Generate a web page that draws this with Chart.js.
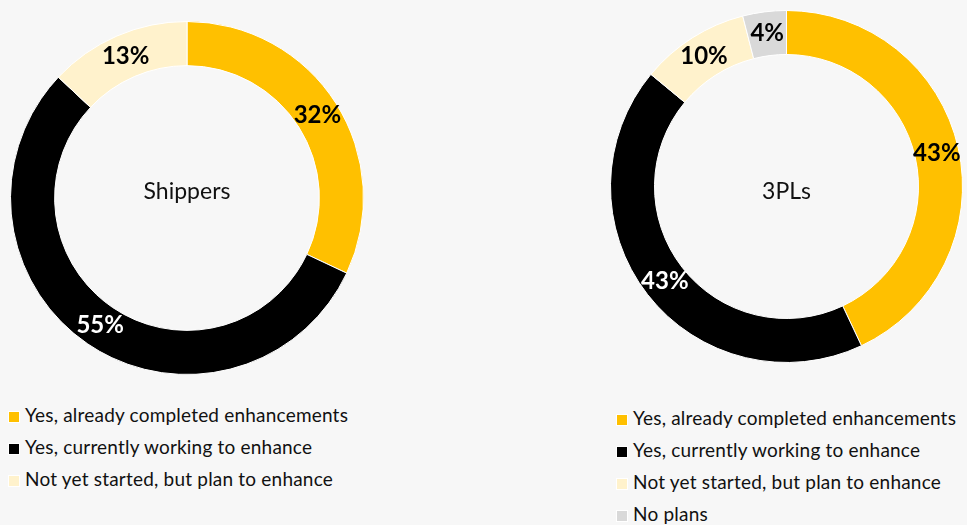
<!DOCTYPE html>
<html>
<head>
<meta charset="utf-8">
<script src="https://cdn.jsdelivr.net/npm/chart.js@4"></script>
<style>
  body { margin: 0; background: #f7f7f7; font-family: Lato, "Open Sans", sans-serif; }
  #wrap { position: relative; width: 967px; height: 525px; overflow: hidden; }
  .box { position: absolute; }
  .legend { position: absolute; font-size: 19px; letter-spacing: 0.2px; color: #111; }
  .legend div { height: 32px; line-height: 32px; white-space: nowrap; }
  .legend span.sw { display: inline-block; width: 10px; height: 10px; margin-right: 5px; border: 1px solid #fff; vertical-align: -1px; }
</style>
</head>
<body>
<div id="wrap">
  <div class="box" style="left:10px;top:21px;width:354px;height:354px"><canvas id="shippers"></canvas></div>
  <div class="box" style="left:610px;top:10px;width:353px;height:353px"><canvas id="tpl"></canvas></div>
  <div class="legend" id="legShippers" style="left:8px;top:399px"></div>
  <div class="legend" id="legTpl" style="left:616px;top:402px"></div>
</div>
<script>
// données
const shipperLabels = ["Yes, already completed enhancements", "Yes, currently working to enhance", "Not yet started, but plan to enhance"];
const shipperValues = [32, 55, 13];
const tplLabels = ["Yes, already completed enhancements", "Yes, currently working to enhance", "Not yet started, but plan to enhance", "No plans"];
const tplValues = [43, 43, 10, 4];
const sliceColors = ["#ffc000", "#000000", "#fff2cc", "#d9d9d9"];
const labelColors = ["#000000", "#ffffff", "#000000", "#000000"];

// texto no centro + percentuais
const donutText = {
    id: "donutText",
    afterDatasetsDraw(chart, args, opts) {
        const ctx = chart.ctx;
        const meta = chart.getDatasetMeta(0);
        ctx.save();
        ctx.textAlign = "center";
        ctx.textBaseline = "middle";
        ctx.font = "bold 24px Lato, 'Open Sans', sans-serif";
        meta.data.forEach((arc, i) => {
            const p = arc.getCenterPoint();
            ctx.fillStyle = labelColors[i];
            ctx.fillText(chart.data.datasets[0].data[i] + "%", p.x, p.y);
        });
        const c = meta.data[0];
        ctx.fillStyle = "#111";
        ctx.font = "23px Lato, 'Open Sans', sans-serif";
        ctx.fillText(opts.title, c.x, c.y + opts.dy);
        ctx.restore();
    }
};

function drawDonut(id, labels, values, title, dy) {
    return new Chart(document.getElementById(id), {
        type: "doughnut",
        data: {
            labels: labels,
            datasets: [{
                data: values,
                backgroundColor: sliceColors.slice(0, values.length),
                borderColor: "#ffffff",
                borderWidth: 1
            }]
        },
        options: {
            responsive: true,
            maintainAspectRatio: false,
            animation: false,
            cutout: "75%",
            layout: { padding: 0 },
            plugins: {
                legend: { display: false },
                tooltip: { enabled: false },
                donutText: { title: title, dy: dy }
            }
        },
        plugins: [donutText]
    });
}

function drawLegend(id, labels) {
    document.getElementById(id).innerHTML = labels.map((l, i) =>
        `<div><span class="sw" style="background:${sliceColors[i]}"></span>${l}</div>`).join("");
}

drawDonut("shippers", shipperLabels, shipperValues, "Shippers", -6);
drawDonut("tpl", tplLabels, tplValues, "3PLs", 5);
drawLegend("legShippers", shipperLabels);
drawLegend("legTpl", tplLabels);
</script>
</body>
</html>
